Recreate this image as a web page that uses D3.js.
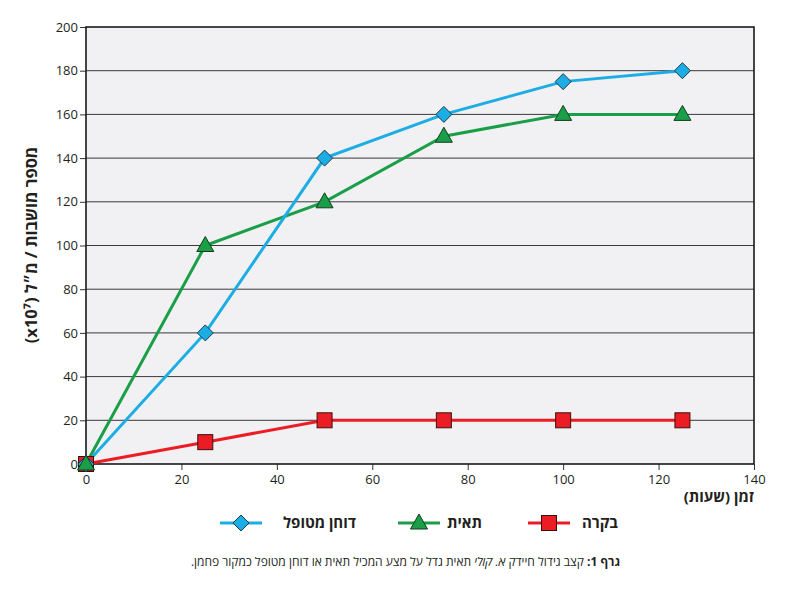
<!DOCTYPE html>
<html><head><meta charset="utf-8">
<script src="https://cdn.jsdelivr.net/npm/d3@7"></script>
<style>body{margin:0;background:#fff;} svg{display:block;}</style>
</head><body>
<svg id="c" width="800" height="595"></svg>
<script>
const hours = [0, 25, 50, 75, 100, 125];
const milletValues = [0, 60, 140, 160, 175, 180];
const celluloseValues = [0, 100, 120, 150, 160, 160];
const controlValues = [0, 10, 20, 20, 20, 20];
const seriesNames = ["דוחן מטופל", "תאית", "בקרה"];
const xTicks = [0, 20, 40, 60, 80, 100, 120, 140];
const yTicks = [0, 20, 40, 60, 80, 100, 120, 140, 160, 180, 200];

const svg = d3.select("#c");
const L = 86, R = 754, T = 27, B = 464;
const x = d3.scaleLinear().domain([0, 140]).range([L, R]);
const y = d3.scaleLinear().domain([0, 200]).range([B, T]);
const font = "'Open Sans', 'Noto Sans', sans-serif";

svg.append("rect").attr("x", L).attr("y", T).attr("width", R - L).attr("height", B - T).attr("fill", "#f1f1f3");

svg.append("g").selectAll("line").data(yTicks.filter(d => d > 0 && d < 200)).join("line")
  .attr("x1", L).attr("x2", R).attr("y1", d => y(d)).attr("y2", d => y(d))
  .attr("stroke", "#3a3a3a").attr("stroke-width", 1);

const yAxis = svg.append("g").attr("transform", `translate(${L},0)`)
  .call(d3.axisLeft(y).tickValues(yTicks).tickSize(6).tickPadding(2));
const xAxis = svg.append("g").attr("transform", `translate(0,${B})`)
  .call(d3.axisBottom(x).tickValues(xTicks).tickSize(6).tickPadding(5));
[xAxis, yAxis].forEach(a => {
  a.select(".domain").remove();
  a.selectAll("line").attr("stroke", "#333");
  a.selectAll("text").attr("font-family", font).attr("font-size", 13).attr("fill", "#231f20");
});

svg.append("rect").attr("x", L).attr("y", T).attr("width", R - L).attr("height", B - T)
  .attr("fill", "none").attr("stroke", "#1a1a1a").attr("stroke-width", 1.6);

const series = [
  {name: seriesNames[0], vals: milletValues, color: "#1cade4", shape: "diamond"},
  {name: seriesNames[1], vals: celluloseValues, color: "#1a9e48", shape: "triangle"},
  {name: seriesNames[2], vals: controlValues, color: "#ec1c24", shape: "square"}
];
const line = d3.line().x(d => x(d[0])).y(d => y(d[1]));

function marker(g, shape, color) {
  if (shape === "diamond") {
    g.append("path").attr("d", "M0,-8L8,0L0,8L-8,0Z").attr("fill", color).attr("stroke", "#1d3a4a").attr("stroke-width", 1);
  } else if (shape === "triangle") {
    g.append("path").attr("d", "M0,-9L8.5,6L-8.5,6Z").attr("fill", color).attr("stroke", "#123d1f").attr("stroke-width", 1);
  } else {
    g.append("rect").attr("x", -7.5).attr("y", -7.5).attr("width", 15).attr("height", 15).attr("fill", color).attr("stroke", "#3a1010").attr("stroke-width", 1);
  }
}

[series[2], series[1], series[0]].forEach(s => {
  const pts = hours.map((h, i) => [h, s.vals[i]]);
  svg.append("path").datum(pts).attr("d", line).attr("fill", "none").attr("stroke", s.color).attr("stroke-width", 3);
});
[series[2], series[0], series[1]].forEach(s => {
  hours.forEach((h, i) => {
    const g = svg.append("g").attr("transform", `translate(${x(h)},${y(s.vals[i])})`);
    marker(g, s.shape, s.color);
  });
});

svg.append("text").attr("x", 754).attr("y", 502).attr("text-anchor", "start")
  .attr("font-family", font).attr("font-size", 15).attr("font-weight", "bold").attr("fill", "#231f20")
  .attr("direction", "rtl").text("זמן (שעות)");
svg.append("text").attr("transform", `translate(37,245) rotate(-90)`).attr("text-anchor", "middle")
  .attr("font-family", font).attr("font-size", 16.5).attr("font-weight", "bold").attr("fill", "#231f20")
  .attr("direction", "rtl").text("מספר מושבות / מ״ל (x10⁷)");

const legendPos = [{lx: 220, tx: 356}, {lx: 398, tx: 482}, {lx: 528, tx: 618}];
series.forEach((s, i) => {
  const p = legendPos[i];
  svg.append("line").attr("x1", p.lx).attr("x2", p.lx + 42).attr("y1", 523).attr("y2", 523)
    .attr("stroke", s.color).attr("stroke-width", 3);
  const g = svg.append("g").attr("transform", `translate(${p.lx + 21},523)`);
  marker(g, s.shape, s.color);
  svg.append("text").attr("x", p.tx).attr("y", 528).attr("text-anchor", "start").attr("direction", "rtl")
    .attr("font-family", font).attr("font-size", 15).attr("font-weight", "bold").attr("fill", "#231f20").text(s.name);
});

const cap = svg.append("text").attr("x", 620).attr("y", 566).attr("direction", "rtl").attr("text-anchor", "start")
  .attr("font-family", font).attr("font-size", 12).attr("fill", "#231f20");
cap.append("tspan").attr("font-weight", "bold").text("גרף 1: ");
cap.append("tspan").text("קצב גידול חיידק ");
cap.append("tspan").attr("font-style", "italic").text("א. קולי");
cap.append("tspan").text(" תאית גדל על מצע המכיל תאית או דוחן מטופל כמקור פחמן.");
</script>
</body></html>
